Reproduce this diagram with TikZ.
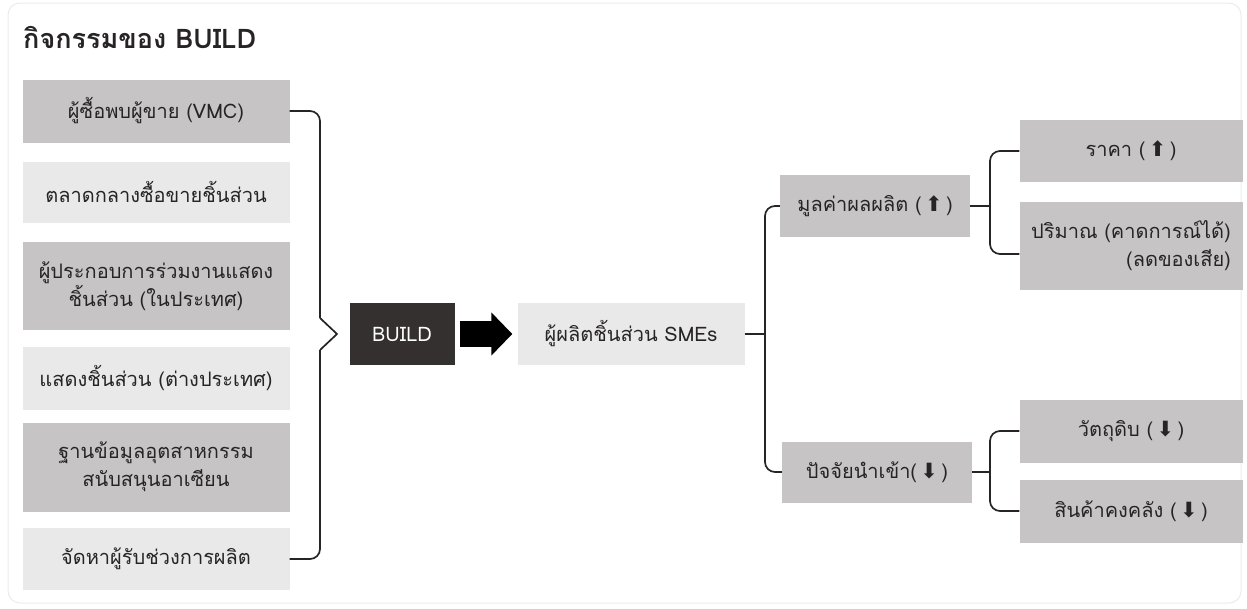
\documentclass[tikz,border=0pt]{standalone}
\usepackage{fontspec}
\newfontfamily\thaifont[Script=Thai]{Loma}
\newfontfamily\symfont{DejaVu Sans}
\usetikzlibrary{positioning}
\usetikzlibrary{arrows.meta}
\definecolor{boxdark}{RGB}{198,196,196}
\definecolor{boxlight}{RGB}{234,233,233}
\definecolor{buildbg}{RGB}{52,48,48}
\definecolor{ink}{RGB}{38,36,36}
\newcommand{\arrup}{{\symfont\fontsize{21}{24}\selectfont ⬆}}
\newcommand{\arrdown}{{\symfont\fontsize{21}{24}\selectfont ⬇}}

\begin{document}
\begin{tikzpicture}[x=1pt, y=-1pt,
    every node/.style={font=\thaifont\fontsize{20}{28}\selectfont, text=ink, align=center, inner sep=2pt},
    darkbox/.style={fill=boxdark},
    lightbox/.style={fill=boxlight},
    wire/.style={line width=1.7pt, draw=ink},
    elbow/.style={wire, rounded corners=10pt}]
            \useasboundingbox (0,0) rectangle (1247,608);
            \draw[black!8, line width=1pt, rounded corners=12pt] (8,3) rectangle (1241,603);

            % Titulo
            \node[anchor=base west, font=\thaifont\bfseries\fontsize{27}{30}\selectfont] (title) at (21,48) {กิจกรรมของ BUILD};

            % Nodos
            \node[darkbox, minimum width=267, minimum height=63] (vmc) at (156,111) {ผู้ซื้อพบผู้ขาย (VMC)};
            \node[lightbox, minimum width=267, minimum height=61] (market) at (156,192) {ตลาดกลางซื้อขายชิ้นส่วน};
            \node[darkbox, minimum width=267, minimum height=88] (local) at (156,286) {ผู้ประกอบการร่วมงานแสดง\\ชิ้นส่วน (ในประเทศ)};
            \node[lightbox, minimum width=267, minimum height=63] (abroad) at (156,378) {แสดงชิ้นส่วน (ต่างประเทศ)};
            \node[darkbox, minimum width=267, minimum height=89] (asean) at (156,467) {ฐานข้อมูลอุตสาหกรรม\\สนับสนุนอาเซียน};
            \node[lightbox, minimum width=267, minimum height=62] (subcon) at (156,559) {จัดหาผู้รับช่วงการผลิต};

            \node[fill=buildbg, text=white, minimum width=105, minimum height=62] (build) at (402,334) {BUILD};
            \node[lightbox, minimum width=227, minimum height=62] (sme) at (631,334) {ผู้ผลิตชิ้นส่วน SMEs};

            \node[darkbox, minimum width=190, minimum height=62] (output) at (875,206) {มูลค่าผลผลิต (\,\arrup\,)};
            \node[darkbox, minimum width=190, minimum height=61] (input) at (877,472) {ปัจจัยนำเข้า(\,\arrdown\,)};

            \node[darkbox, minimum width=223, minimum height=62] (price) at (1131,151) {ราคา (\,\arrup\,)};
            \node[darkbox, minimum width=223, minimum height=88, align=right] (volume) at (1131,246) {ปริมาณ (คาดการณ์ได้)\\(ลดของเสีย)};
            \node[darkbox, minimum width=223, minimum height=63] (raw) at (1131,431) {วัตถุดิบ (\,\arrdown\,)};
            \node[darkbox, minimum width=223, minimum height=63] (stock) at (1131,511) {สินค้าคงคลัง (\,\arrdown\,)};

            \coordinate (tip) at (337,334);
            \coordinate (tiptop) at (320,318);
            \coordinate (tipbot) at (320,350);
            \coordinate (smefork) at (765,334);
            \coordinate (outfork) at (990,206);
            \coordinate (infork) at (990,472);

            % Aristas
            \draw[elbow] (vmc.east) -| (tiptop);
            \draw[elbow] (subcon.east) -| (tipbot);
            \draw[wire, line join=miter] (tiptop) -- (tip) -- (tipbot);
            \draw[black, line width=26pt, -{Triangle[length=21pt 0 0, width=42pt 0 0]}] ([xshift=5pt]build.east) -- ([xshift=-5pt]sme.west);
            \draw[wire] (sme.east) -- (smefork);
            \draw[elbow] (output.west) -| (smefork) |- (input.west);
            \draw[wire] (output.east) -- (outfork);
            \draw[elbow] (price.west) -| (outfork) |- ([yshift=-8pt]volume.west);
            \draw[wire] (input.east) -- (infork);
            \draw[elbow] (raw.west) -| (infork) |- (stock.west);
          \end{tikzpicture}
\end{document}
